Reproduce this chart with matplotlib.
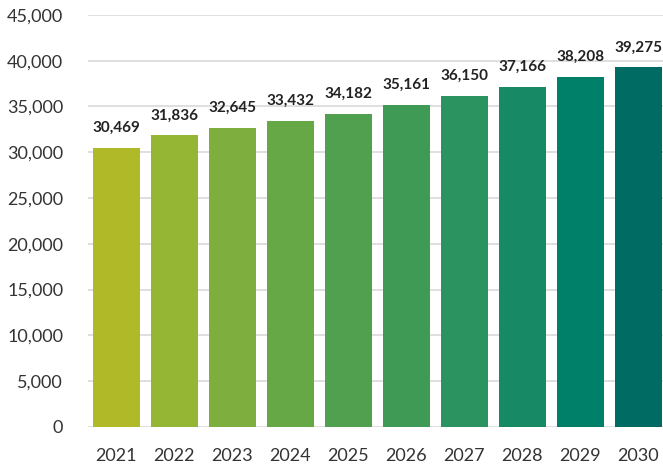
import matplotlib.pyplot as plt

years = ['2021', '2022', '2023', '2024', '2025', '2026', '2027', '2028', '2029', '2030']
values = [30469, 31836, 32645, 33432, 34182, 35161, 36150, 37166, 38208, 39275]
colors = ['#B0BA28', '#95B535', '#7EAF3E', '#67A846', '#50A04F',
          '#3E9A55', '#2A9360', '#188965', '#007F69', '#006B62']

plt.rcParams['font.family'] = ['Lato', 'DejaVu Sans']

fig = plt.figure(figsize=(6.63, 4.65), dpi=100)
ax = fig.add_axes([0.133, 0.082, 0.867, 0.886])

x = range(len(years))
ax.bar(x, values, width=0.81, color=colors, zorder=3)

for i, v in enumerate(values):
    ax.text(i, v + 1400, f'{v:,}', ha='center', va='bottom',
            fontsize=11, fontweight='bold', color='#222222')

ax.set_ylim(0, 45000)
ax.set_xlim(-0.48, 9.43)
ax.set_yticks(range(0, 45001, 5000))
ax.set_yticklabels([f'{t:,}' for t in range(0, 45001, 5000)])
ax.set_xticks(list(x))
ax.set_xticklabels(years)
ax.tick_params(axis='both', length=0, labelsize=13, colors='#333333')
ax.tick_params(axis='y', pad=18)
ax.tick_params(axis='x', pad=15)
ax.grid(axis='y', color='#D9D9D9', linewidth=1.2, zorder=0)
for s in ax.spines.values():
    s.set_visible(False)

fig.savefig('out.png', dpi=100)
